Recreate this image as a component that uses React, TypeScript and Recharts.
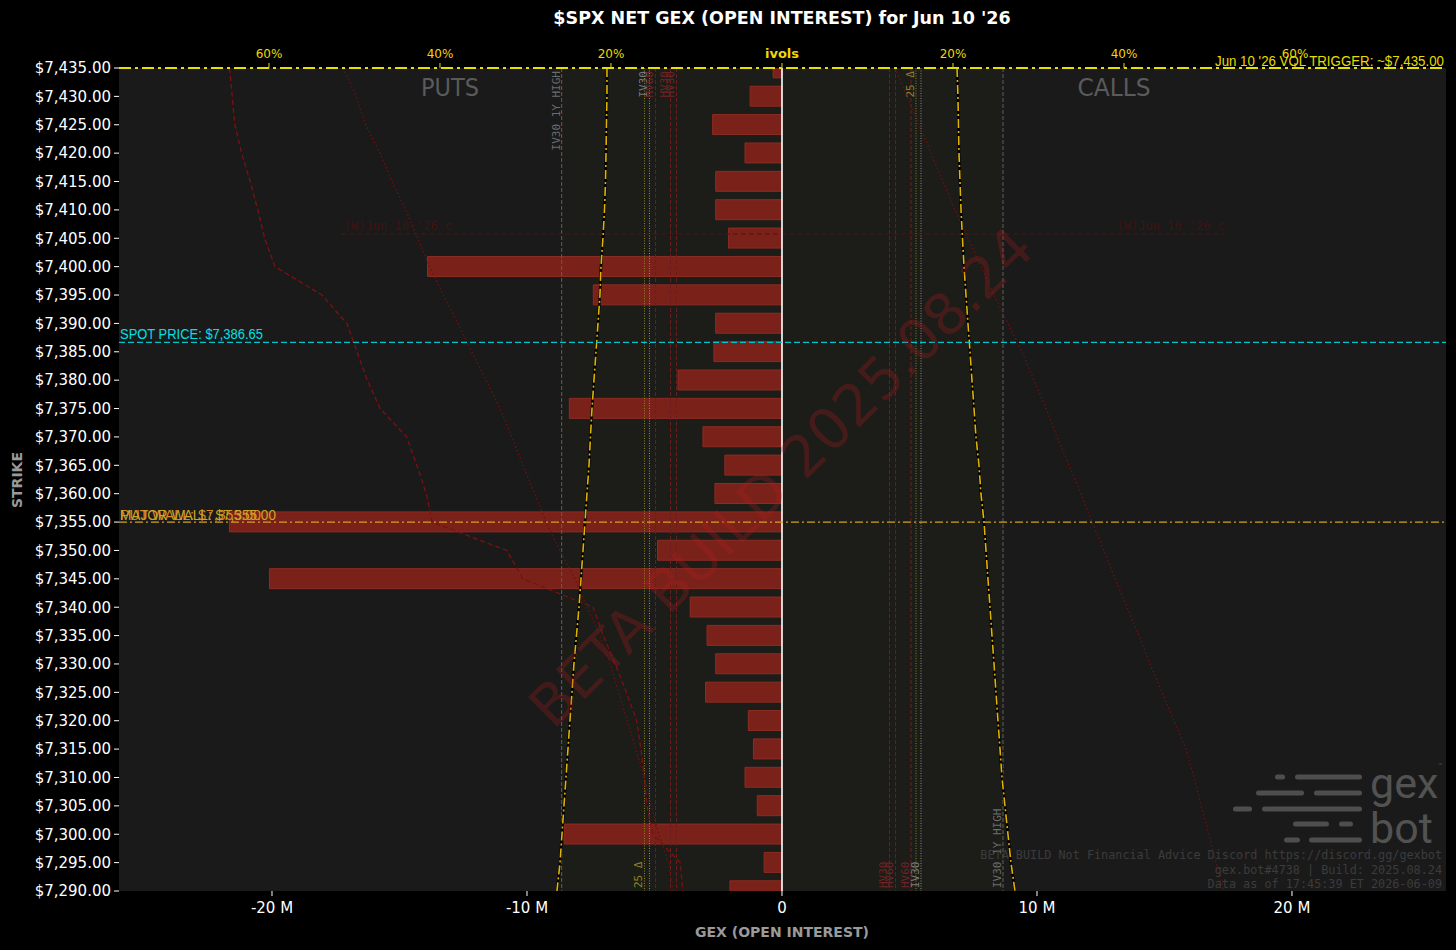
import {
  ComposedChart,
  Bar,
  Line,
  XAxis,
  YAxis,
  CartesianGrid,
  ReferenceLine,
  ReferenceArea,
} from 'recharts'

const W = 1456
const H = 950
const DEJAVU = "'DejaVu Sans', sans-serif"
const MONO = "'DejaVu Sans Mono', monospace"
const NARROW = "'Liberation Sans Narrow', 'Liberation Sans', sans-serif"

// strikes, top to bottom
const strikes = [
  7435, 7430, 7425, 7420, 7415, 7410, 7405, 7400, 7395, 7390,
  7385, 7380, 7375, 7370, 7365, 7360, 7355, 7350, 7345, 7340,
  7335, 7330, 7325, 7320, 7315, 7310, 7305, 7300, 7295, 7290,
]
// net GEX (open interest), millions
const netGex = [
  -0.35, -1.25, -2.72, -1.45, -2.6, -2.6, -2.1, -13.9, -7.4, -2.6,
  -2.67, -4.08, -8.34, -3.1, -2.24, -2.63, -21.67, -4.88, -20.1, -3.6,
  -2.94, -2.6, -3.0, -1.32, -1.12, -1.45, -0.97, -8.54, -0.7, -2.04,
]
// implied vols (%), put side drawn left of zero, call side right
const putIv = [
  20.47, 20.47, 20.53, 20.58, 20.64, 20.76, 20.94, 21.17, 21.29, 21.52,
  21.75, 21.99, 22.22, 22.4, 22.57, 22.81, 23.04, 23.27, 23.51, 23.74,
  24.04, 24.33, 24.56, 24.8, 25.03, 25.26, 25.5, 25.73, 25.96, 26.32,
]
const callIv = [
  20.47, 20.58, 20.64, 20.7, 20.82, 20.94, 21.11, 21.29, 21.52, 21.75,
  21.99, 22.22, 22.46, 22.69, 23.04, 23.27, 23.63, 23.86, 24.09, 24.33,
  24.56, 24.8, 25.03, 25.26, 25.5, 25.73, 26.08, 26.43, 26.78, 27.25,
]
const putSkew = [
  64.6, 64.3, 64.0, 63.2, 62.2, 61.3, 60.5, 59.3, 53.8, 50.9,
  49.7, 48.5, 47.0, 43.9, 42.7, 41.6, 40.9, 32.2, 30.3, 22.1,
  20.9, 19.5, 18.2, 17.0, 16.5, 16.1, 15.8, 15.1, 11.9, 11.6,
]
const putWing = [
  51.3, 49.8, 48.7, 47.0, 45.6, 44.0, 42.6, 41.2, 39.6, 37.9,
  36.3, 34.6, 33.0, 31.6, 30.3, 28.9, 27.6, 26.0, 24.2, 22.8,
  21.3, 20.1, 19.1, 18.1, 17.1, 16.1, 15.3, 14.4, 13.3, 12.7,
]
const callWing = [
  13.22, 14.62, 16.02, 17.43, 18.83, 20.23, 21.75, 23.27, 24.8, 26.43,
  28.07, 29.47, 30.88, 32.16, 33.57, 34.97, 36.26, 37.66, 38.95, 40.35,
  41.75, 43.04, 44.44, 45.85, 47.25, 48.19, 49.01, 49.94, 50.76, 51.7,
]

const gexTicks = [-20, -10, 0, 10, 20]
const ivTicks = [-60, -40, -20, 0, 20, 40, 60]

const spotPrice = 7386.65
const volTrigger = 7435
const wallLevel = 7355
const weeklyLevel = 7405.75
const weeklySpan = [-17.3, 17.37]

// vertical vol levels on the ivol axis (%)
const levelPos = [-25.77, -16.08, -15.5, -14.8, -13.04, -12.34, 12.57, 13.27, 15.09, 15.67, 16.26, 25.85]
const levelName = ['IV30 1Y HIGH', '25 Δ', 'IV30', 'HV60', 'HV30', 'HV30', 'HV30', 'HV60', 'HV60', '25 Δ', 'IV30', 'IV30 1Y HIGH']
const levelKind = ['high', 'delta', 'iv', 'hv', 'hv', 'hv', 'hv', 'hv', 'hv', 'delta', 'iv', 'high']

const footer = [
  'BETA BUILD Not Financial Advice Discord https://discord.gg/gexbot',
  'gex.bot#4738 | Build: 2025.08.24',
  'Data as of 17:45:39 ET 2026-06-09',
]

const KIND: Record<string, { stroke: string; dash: string; text: string }> = {
  high: { stroke: '#5e5e5e', dash: '4 2', text: '#6c6c6c' },
  iv: { stroke: '#8a8a8a', dash: '1 1.5', text: '#7a7a7a' },
  hv: { stroke: '#6e1e1e', dash: '4 2', text: '#6e2424' },
  delta: { stroke: '#8a8520', dash: '1 1.5', text: '#8a8422' },
}

const fmtStrike = (v: number) =>
  `$${v.toLocaleString('en-US', { minimumFractionDigits: 2, maximumFractionDigits: 2 })}`
const fmtGex = (v: number) => (v === 0 ? '0' : `${v} M`)

function IvTick({ x, y, payload }: any) {
  const v = payload.value
  return (
    <text
      x={x}
      y={y - 3}
      textAnchor="middle"
      fill="#f2d600"
      fontSize={v === 0 ? 13 : 12}
      fontWeight={v === 0 ? 'bold' : 'normal'}
      fontFamily={DEJAVU}
    >
      {v === 0 ? 'ivols' : `${Math.abs(v)}%`}
    </text>
  )
}

const vLabel = (text: string, color: string, atTop: boolean) =>
  ({ viewBox }: any) => {
    const x = (viewBox?.x ?? 0) - 2
    const y = atTop ? (viewBox?.y ?? 0) + 3 : (viewBox?.y ?? 0) + (viewBox?.height ?? 0) - 3
    return (
      <text
        transform={`translate(${x},${y}) rotate(-90)`}
        textAnchor={atTop ? 'end' : 'start'}
        fill={color}
        fontSize={11}
        fontFamily={MONO}
      >
        {text}
      </text>
    )
  }

const spotLabel = ({ viewBox }: any) => (
  <text x={(viewBox?.x ?? 0) + 1} y={(viewBox?.y ?? 0) - 3} fill="#00e0e6" fontSize={14}
    fontFamily={NARROW} textLength={143} lengthAdjust="spacingAndGlyphs">
    SPOT PRICE: {fmtStrike(spotPrice)}
  </text>
)

const triggerLabel = ({ viewBox }: any) => (
  <text x={(viewBox?.x ?? 0) + (viewBox?.width ?? 0) - 2} y={(viewBox?.y ?? 0) - 2} textAnchor="end"
    fill="#e6dc00" fontSize={14} fontFamily={NARROW} textLength={229} lengthAdjust="spacingAndGlyphs">
    Jun 10 '26 VOL TRIGGER: ~{fmtStrike(volTrigger)}
  </text>
)

// the reference prints both wall labels on top of each other at the same level
const wallLabel = ({ viewBox }: any) => {
  const x = (viewBox?.x ?? 0) + 1
  const y = (viewBox?.y ?? 0) - 2
  return (
    <g>
      <text x={x} y={y} fill="#d9891c" fontSize={14} fontFamily={NARROW} textLength={141} lengthAdjust="spacingAndGlyphs">
        PUT WALL: {fmtStrike(wallLevel)}
      </text>
      <text x={x} y={y} fill="#c9a72a" fontSize={14} fontFamily={NARROW} textLength={156} lengthAdjust="spacingAndGlyphs">
        MAJOR WALL: {fmtStrike(wallLevel)}
      </text>
    </g>
  )
}

const weeklyLabel = ({ viewBox }: any) => {
  const x = viewBox?.x ?? 0
  const y = (viewBox?.y ?? 0) - 4
  const w = viewBox?.width ?? 0
  return (
    <g fill="#421212" fontSize={12} fontFamily={MONO}>
      <text x={x + 3} y={y}>(W)Jun 10 '26 c</text>
      <text x={x + w} y={y} textAnchor="end">(W)Jun 10 '26 c</text>
    </g>
  )
}

function Logo() {
  const rows: [number, number, number, number, number][] = [
    [777, 1275, 1285, 1295, 1362],
    [793, 1256, 1304, 1314, 1362],
    [809, 1233, 1252, 1262, 1362],
    [824, 1293, 1329, 1339, 1353],
    [840, 1284, 1300, 1309, 1362],
  ]
  return (
    <g fill="#4e4e4e">
      {rows.map(([y, a, b, c, d]) => (
        <g key={y}>
          <rect x={a} y={y - 2.5} width={b - a} height={5} rx={2.5} />
          <rect x={c} y={y - 2.5} width={d - c} height={5} rx={2.5} />
        </g>
      ))}
      <text x={1370} y={798} fontSize={43} fontFamily="Roboto, sans-serif" fill="#525252">gex</text>
      <text x={1370} y={843} fontSize={43} fontFamily="Roboto, sans-serif" fill="#525252">bot</text>
      <text x={1438} y={768} fontSize={7} fontFamily="Roboto, sans-serif" fill="#525252">™</text>
    </g>
  )
}

export default function App() {
  const data = strikes.map((strike, i) => ({
    strike,
    gex: netGex[i],
    ivPut: -putIv[i],
    ivCall: callIv[i],
    skew: -putSkew[i],
    wingPut: -putWing[i],
    wingCall: callWing[i],
  }))

  return (
    <div style={{ position: 'relative', width: W, height: H, background: '#000' }}>
      <style>{'body{margin:0;background:#000}'}</style>
      <ComposedChart
        layout="vertical"
        width={W}
        height={H}
        data={data}
        margin={{ top: 38, right: 10, bottom: 14, left: 0 }}
      >
        <CartesianGrid fill="#1a1a1a" horizontal={false} vertical={false} />
        <XAxis
          type="number"
          domain={[-26, 26.04]}
          ticks={gexTicks}
          tickFormatter={fmtGex}
          allowDataOverflow
          axisLine={false}
          tickLine={{ stroke: '#ffffff' }}
          tickSize={5}
          tickMargin={6}
          height={45}
          tick={{ fill: '#ffffff', fontSize: 15, fontFamily: DEJAVU }}
        />
        <XAxis
          xAxisId="iv"
          orientation="top"
          type="number"
          domain={[-77.54, 77.66]}
          ticks={ivTicks}
          allowDataOverflow
          axisLine={false}
          tickLine={{ stroke: '#f2d600' }}
          tickSize={5}
          height={30}
          tick={<IvTick />}
        />
        <YAxis
          type="number"
          dataKey="strike"
          domain={[7290, 7435]}
          ticks={strikes}
          interval={0}
          reversed
          allowDataOverflow
          tickFormatter={fmtStrike}
          width={119}
          axisLine={false}
          tickLine={{ stroke: '#ffffff' }}
          tickSize={5}
          tickMargin={3}
          tick={{ fill: '#ffffff', fontSize: 15, fontFamily: DEJAVU }}
        />

        {/* band between the 1Y-high IV30 levels */}
        <ReferenceArea xAxisId="iv" x1={levelPos[0]} x2={levelPos[levelPos.length - 1]}
          fill="rgba(60,50,20,0.14)" stroke="none" ifOverflow="hidden" />

        {levelPos.map((p, i) => {
          const k = KIND[levelKind[i]]
          const atTop = (p < 0) !== (levelKind[i] === 'delta')
          return (
            <ReferenceLine key={'lv' + i} xAxisId="iv" x={p} stroke={k.stroke} strokeWidth={1}
              strokeDasharray={k.dash} label={vLabel(levelName[i], k.text, atTop)} />
          )
        })}

        <ReferenceLine
          segment={[{ x: weeklySpan[0], y: weeklyLevel }, { x: weeklySpan[1], y: weeklyLevel }]}
          stroke="#4c1414" strokeDasharray="5 3" strokeWidth={1.2} label={weeklyLabel}
        />

        <Bar dataKey="gex" barSize={20} fill="#7a221a" stroke="#8c2c22" strokeWidth={1} isAnimationActive={false} />

        <Line xAxisId="iv" dataKey="skew" stroke="#7d1010" strokeWidth={1.3} strokeDasharray="5 3" dot={false} isAnimationActive={false} />
        <Line xAxisId="iv" dataKey="wingPut" stroke="#6e1010" strokeWidth={1.3} strokeDasharray="1.5 2.5" dot={false} isAnimationActive={false} />
        <Line xAxisId="iv" dataKey="wingCall" stroke="#6e1010" strokeWidth={1.3} strokeDasharray="1.5 2.5" dot={false} isAnimationActive={false} />

        <Line xAxisId="iv" dataKey="ivPut" stroke="#000000" strokeWidth={2.6} dot={false} isAnimationActive={false} />
        <Line xAxisId="iv" dataKey="ivPut" stroke="#e0b400" strokeWidth={1.6} strokeDasharray="9 3 2 3" dot={false} isAnimationActive={false} />
        <Line xAxisId="iv" dataKey="ivCall" stroke="#000000" strokeWidth={2.6} dot={false} isAnimationActive={false} />
        <Line xAxisId="iv" dataKey="ivCall" stroke="#e0b400" strokeWidth={1.6} strokeDasharray="9 3 2 3" dot={false} isAnimationActive={false} />

        <ReferenceLine x={0} stroke="#ffffff" strokeWidth={1.6} />
        <ReferenceLine y={spotPrice} stroke="#00c4cc" strokeWidth={1.3} strokeDasharray="6 3" label={spotLabel} />
        <ReferenceLine y={wallLevel} stroke="#d4a020" strokeWidth={1.2} strokeDasharray="8 3 2 3" label={wallLabel} />
        <ReferenceLine y={volTrigger} stroke="#e8e000" strokeWidth={2} strokeDasharray="12 4 3 4" label={triggerLabel} />
      </ComposedChart>

      <svg width={W} height={H} style={{ position: 'absolute', left: 0, top: 0, pointerEvents: 'none' }}>
        <text x={782} y={24} textAnchor="middle" fill="#ffffff" fontSize={17.5} fontWeight="bold" fontFamily={DEJAVU}>
          $SPX NET GEX (OPEN INTEREST) for Jun 10 '26
        </text>
        <text x={450} y={96} textAnchor="middle" fill="#5a5a5a" fontSize={24} fontFamily={DEJAVU}
          textLength={58} lengthAdjust="spacingAndGlyphs">PUTS</text>
        <text x={1114} y={96} textAnchor="middle" fill="#5a5a5a" fontSize={24} fontFamily={DEJAVU}
          textLength={73} lengthAdjust="spacingAndGlyphs">CALLS</text>
        <text x={782} y={937} textAnchor="middle" fill="#9a9a9a" fontSize={14} fontWeight="bold" fontFamily={DEJAVU}>
          GEX (OPEN INTEREST)
        </text>
        <text transform="translate(22,480) rotate(-90)" textAnchor="middle" fill="#9a9a9a" fontSize={14}
          fontWeight="bold" fontFamily={DEJAVU}>STRIKE</text>
        <text transform="translate(784,480) rotate(-44.7)" textAnchor="middle" dominantBaseline="middle"
          fill="#b01c1c" fillOpacity={0.28} fontSize={57} fontFamily={DEJAVU}>
          BETA BUILD 2025.08.24
        </text>
        <Logo />
        <g fill="#3c3c3c" fontSize={11.8} fontFamily={MONO} textAnchor="end">
          {footer.map((t, i) => (
            <text key={i} x={1442} y={859 + i * 14.5}>{t}</text>
          ))}
        </g>
      </svg>
    </div>
  )
}
